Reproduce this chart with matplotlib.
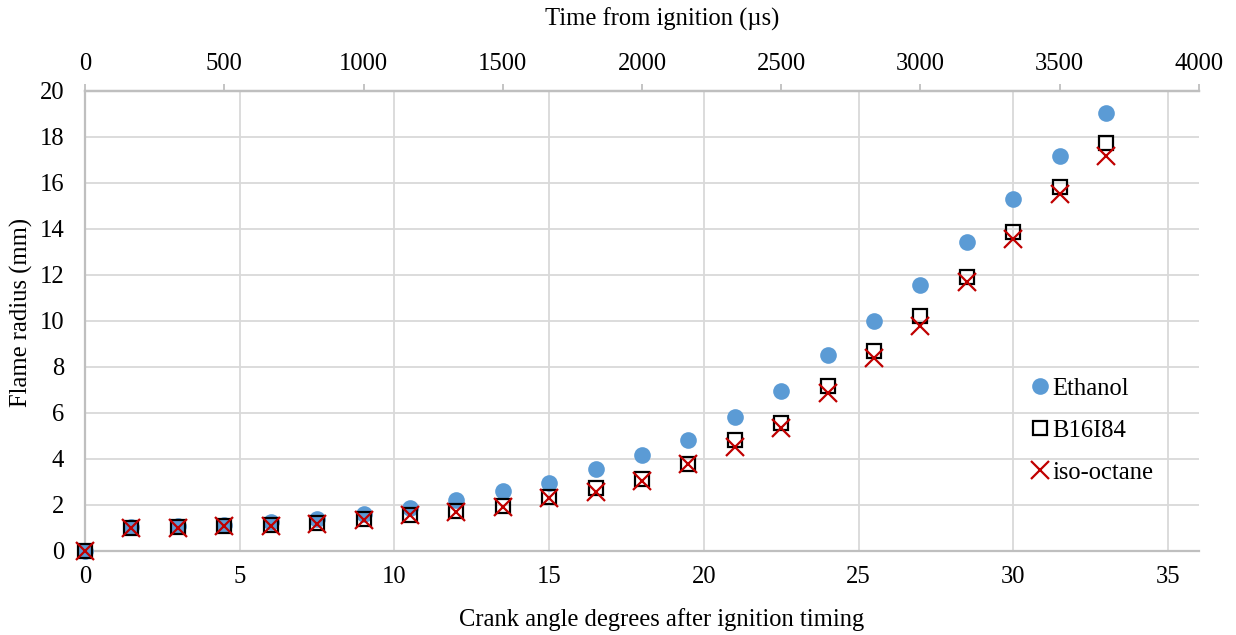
import numpy as np
import matplotlib
matplotlib.use("Agg")
import matplotlib.pyplot as plt

# crank angle after ignition timing (CAD)
cad = [0, 1.5, 3, 4.5, 6, 7.5, 9, 10.5, 12, 13.5, 15, 16.5, 18, 19.5,
       21, 22.5, 24, 25.5, 27, 28.5, 30, 31.5, 33]

# flame radius (mm) for each fuel
ethanol = [0, 1.05, 1.07, 1.15, 1.27, 1.40, 1.60, 1.88, 2.20, 2.61, 2.97, 3.55,
           4.17, 4.81, 5.84, 6.95, 8.53, 9.99, 11.57, 13.43, 15.31, 17.15, 19.03]
b16i84 = [0, 1.02, 1.03, 1.09, 1.12, 1.20, 1.38, 1.57, 1.75, 1.97, 2.36, 2.74,
          3.12, 3.78, 4.82, 5.58, 7.16, 8.70, 10.22, 11.89, 13.85, 15.83, 17.71]
isooctane = [0, 0.99, 1.00, 1.07, 1.10, 1.18, 1.35, 1.55, 1.70, 1.93, 2.29, 2.58,
             3.06, 3.77, 4.50, 5.33, 6.87, 8.37, 9.78, 11.68, 13.55, 15.51, 17.16]

plt.rcParams['font.family'] = ['Liberation Serif', 'DejaVu Serif']
plt.rcParams['font.size'] = 17.7

grid_col = '#D9D9D9'
spine_col = '#BFBFBF'

fig = plt.figure(figsize=(12.36, 6.35), dpi=100)
ax = fig.add_axes([0.0688, 0.1323, 0.9012, 0.7249])

ax.plot(cad, ethanol, linestyle='none', marker='o', markersize=12,
        color='#5B9BD5', markeredgewidth=0, label='Ethanol', zorder=3,
        clip_on=False)
ax.plot(cad, b16i84, linestyle='none', marker='s', markersize=10.5,
        fillstyle='none', markeredgecolor='black', markeredgewidth=1.6,
        label='B16I84', zorder=4, clip_on=False)
ax.plot(cad, isooctane, linestyle='none', marker='x', markersize=13,
        color='#C00000', markeredgewidth=1.6, label='iso-octane', zorder=5,
        clip_on=False)

ax.set_xlim(0, 36)
ax.set_ylim(0, 20)
ax.set_xticks(np.arange(0, 36, 5))
ax.set_yticks(np.arange(0, 21, 2))
ax.grid(True, color=grid_col, linewidth=1.3, zorder=0)
ax.set_axisbelow(True)
ax.tick_params(axis='both', length=0, colors='black')
ax.tick_params(axis='x', pad=11)
ax.tick_params(axis='y', pad=15)

ax.spines['right'].set_visible(False)
for side in ('left', 'bottom', 'top'):
    ax.spines[side].set_color(spine_col)
    ax.spines[side].set_linewidth(1.6)

ax.set_xlabel('Crank angle degrees after ignition timing')
ax.xaxis.set_label_coords(0.518, -0.123)
ax.set_ylabel('Flame radius (mm)', labelpad=4.5)
ax.yaxis.label.set_y(0.518)

# secondary axis: time from ignition
top = ax.twiny()
top.set_xlim(0, 4000)
top.set_xticks(np.arange(0, 4001, 500))
top.tick_params(axis='x', direction='out', length=5, width=1.3,
                color=spine_col, labelcolor='black', pad=6)
for side in ('left', 'right', 'bottom'):
    top.spines[side].set_visible(False)
top.spines['top'].set_color(spine_col)
top.spines['top'].set_linewidth(1.6)
top.set_xlabel('Time from ignition (µs)', labelpad=20)
top.xaxis.label.set_x(0.518)

leg = ax.legend(loc='upper left', bbox_to_anchor=(0.8415, 0.398), frameon=False,
                handlelength=0.6, handletextpad=0.22, labelspacing=0.8,
                borderaxespad=0)

fig.savefig('out.png', dpi=100)
